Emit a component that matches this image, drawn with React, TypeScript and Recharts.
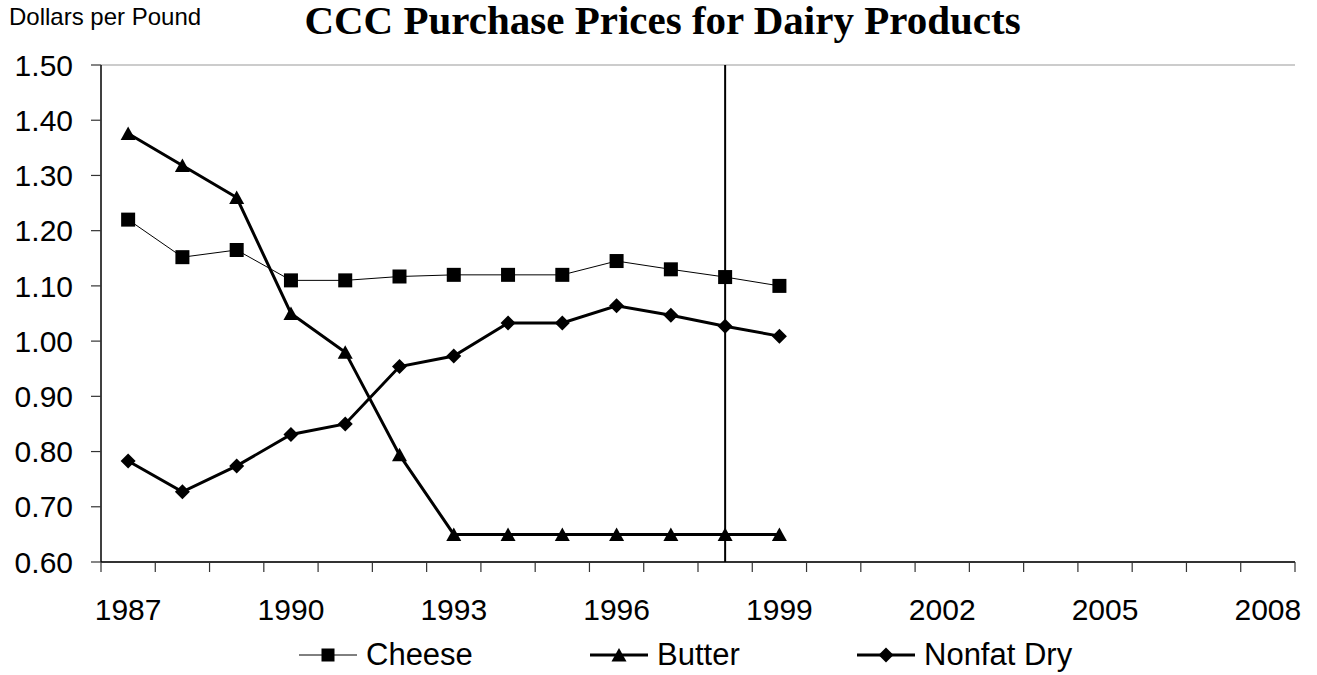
import React from 'react';
import { LineChart, Line, XAxis, YAxis, CartesianGrid, ReferenceLine, Legend } from 'recharts';

const YEARS = [1987, 1988, 1989, 1990, 1991, 1992, 1993, 1994, 1995, 1996, 1997, 1998, 1999];
const CHEESE = [1.22, 1.152, 1.165, 1.11, 1.11, 1.117, 1.12, 1.12, 1.12, 1.145, 1.13, 1.116, 1.1];
const BUTTER = [1.376, 1.318, 1.26, 1.05, 0.98, 0.794, 0.65, 0.65, 0.65, 0.65, 0.65, 0.65, 0.65];
const NONFAT = [0.783, 0.727, 0.774, 0.831, 0.85, 0.954, 0.973, 1.033, 1.033, 1.064, 1.047, 1.027, 1.009];

const X_FIRST_YEAR = 1987;
const X_LAST_YEAR = 2008;
const X_LABEL_YEARS = [1987, 1990, 1993, 1996, 1999, 2002, 2005, 2008];
const Y_TICKS = [0.6, 0.7, 0.8, 0.9, 1.0, 1.1, 1.2, 1.3, 1.4, 1.5];
const MARKER_YEAR = 1998;

const TITLE = 'CCC Purchase Prices for Dairy Products';
const Y_UNIT = 'Dollars per Pound';
const SERIES_NAMES = ['Cheese', 'Butter', 'Nonfat Dry'];

const data = YEARS.map((year, i) => ({
  year,
  cheese: CHEESE[i],
  butter: BUTTER[i],
  nonfat: NONFAT[i],
}));

const boundaries: number[] = [];
for (let y = X_FIRST_YEAR; y <= X_LAST_YEAR + 1; y++) boundaries.push(y - 0.5);
const xTicks = [...boundaries, ...X_LABEL_YEARS].sort((a, b) => a - b);

const SANS = '"Liberation Sans", Arial, sans-serif';
const SERIF = '"Liberation Serif", "Times New Roman", serif';

const squareShape = (cx: number, cy: number, s: number) => (
  <rect x={cx - s / 2} y={cy - s / 2} width={s} height={s} fill="#000" />
);
const triangleShape = (cx: number, cy: number, s: number) => (
  <polygon
    points={`${cx},${cy - s / 2} ${cx + s / 2 + 0.5},${cy + s / 2 - 0.5} ${cx - s / 2 - 0.5},${cy + s / 2 - 0.5}`}
    fill="#000"
  />
);
const diamondShape = (cx: number, cy: number, s: number) => (
  <polygon
    points={`${cx},${cy - s / 2} ${cx + s / 2},${cy} ${cx},${cy + s / 2} ${cx - s / 2},${cy}`}
    fill="#000"
  />
);

const mkDot = (fn: (cx: number, cy: number, s: number) => React.ReactElement, s: number) => (p: any) => (
  <g key={`d-${p.index}`}>{fn(p.cx, p.cy, s)}</g>
);

const XTick = (props: any) => {
  const { x, y, payload } = props;
  const v = payload.value;
  if (Number.isInteger(v)) {
    return (
      <text x={x} y={y + 58} textAnchor="middle" fontSize={30} fontFamily={SANS} fill="#000">
        {v}
      </text>
    );
  }
  return <line x1={x} y1={y} x2={x} y2={y + 10} stroke="#333" strokeWidth={1.2} />;
};

const legendItems = [
  { name: SERIES_NAMES[0], shape: squareShape, size: 13, width: 1, left: 299 },
  { name: SERIES_NAMES[1], shape: triangleShape, size: 14, width: 3, left: 590 },
  { name: SERIES_NAMES[2], shape: diamondShape, size: 15, width: 3, left: 857 },
];

const LegendContent = () => (
  <div style={{ position: 'relative', width: 1317, height: 40 }}>
    {legendItems.map((it) => (
      <div
        key={it.name}
        style={{ position: 'absolute', left: it.left, top: 0, height: 40, display: 'flex', alignItems: 'center' }}
      >
        <svg width={58} height={20} style={{ display: 'block' }}>
          <line x1={0} y1={10} x2={58} y2={10} stroke="#000" strokeWidth={it.width} />
          {it.shape(29, 10, it.size)}
        </svg>
        <span style={{ marginLeft: 9, fontSize: 31, fontFamily: SANS, color: '#000', whiteSpace: 'nowrap', lineHeight: '40px' }}>
          {it.name}
        </span>
      </div>
    ))}
  </div>
);

export default function App() {
  return (
    <div style={{ position: 'absolute', left: 0, top: 0, width: 1317, height: 675, background: '#fff', overflow: 'hidden' }}>
      <div
        style={{
          position: 'absolute',
          left: 9,
          top: 2,
          fontFamily: SANS,
          fontSize: 24,
          color: '#000',
          whiteSpace: 'nowrap',
          lineHeight: '30px',
        }}
      >
        {Y_UNIT}
      </div>
      <div
        style={{
          position: 'absolute',
          left: 8,
          width: 1309,
          top: 0,
          textAlign: 'center',
          fontFamily: SERIF,
          fontWeight: 'bold',
          fontSize: 41,
          color: '#000',
          whiteSpace: 'nowrap',
          lineHeight: '41px',
        }}
      >
        {TITLE}
      </div>
      <LineChart
        width={1317}
        height={675}
        data={data}
        margin={{ top: 65, right: 22, bottom: 0, left: 1 }}
        style={{ position: 'absolute', left: 0, top: 0 }}
      >
        <CartesianGrid horizontal vertical={false} stroke="#9a9a9a" strokeWidth={1.2} />
        <XAxis
          dataKey="year"
          type="number"
          domain={[X_FIRST_YEAR - 0.5, X_LAST_YEAR + 0.5]}
          ticks={xTicks}
          interval={0}
          tick={<XTick />}
          tickLine={false}
          tickSize={0}
          tickMargin={0}
          height={73}
          axisLine={{ stroke: '#000', strokeWidth: 1.5 }}
        />
        <YAxis
          yAxisId="left"
          domain={[0.6, 1.5]}
          ticks={Y_TICKS}
          interval={0}
          width={100}
          tickSize={10}
          tickMargin={18}
          tickFormatter={(v: number) => v.toFixed(2)}
          tick={{ fontSize: 30, fontFamily: SANS, fill: '#000' }}
          tickLine={{ stroke: '#333', strokeWidth: 1.2 }}
          axisLine={{ stroke: '#000', strokeWidth: 1.5 }}
        />
        <YAxis
          yAxisId="right"
          orientation="right"
          domain={[0.6, 1.5]}
          width={0}
          tick={false}
          tickLine={false}
          axisLine={{ stroke: '#000', strokeWidth: 1.5 }}
        />
        <ReferenceLine yAxisId="left" x={MARKER_YEAR} stroke="#000" strokeWidth={2} />
        <Line
          yAxisId="left"
          dataKey="cheese"
          name={SERIES_NAMES[0]}
          stroke="#000"
          strokeWidth={1}
          dot={mkDot(squareShape, 14)}
          activeDot={false}
          isAnimationActive={false}
        />
        <Line
          yAxisId="left"
          dataKey="butter"
          name={SERIES_NAMES[1]}
          stroke="#000"
          strokeWidth={3}
          dot={mkDot(triangleShape, 14)}
          activeDot={false}
          isAnimationActive={false}
        />
        <Line
          yAxisId="left"
          dataKey="nonfat"
          name={SERIES_NAMES[2]}
          stroke="#000"
          strokeWidth={3}
          dot={mkDot(diamondShape, 15)}
          activeDot={false}
          isAnimationActive={false}
        />
        <Legend verticalAlign="bottom" align="left" content={<LegendContent />} wrapperStyle={{ left: 0, width: 1317, height: 40 }} />
      </LineChart>
    </div>
  );
}
